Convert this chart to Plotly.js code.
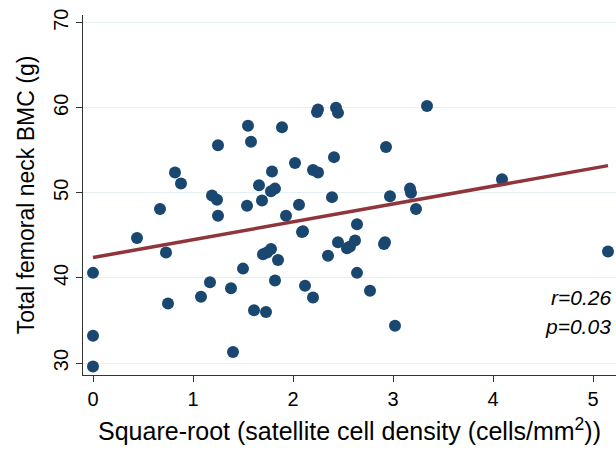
<!DOCTYPE html>
<html>
<head>
<meta charset="utf-8">
<script src="https://cdn.plot.ly/plotly-3.0.1.min.js"></script>
<style>html,body{margin:0;padding:0;background:#fff;}#chart{width:616px;height:452px;}</style>
</head>
<body>
<div id="chart"></div>
<script>
const density = [0,0,0,0.44,0.67,0.73,0.75,0.82,0.88,1.08,1.17,1.19,1.24,1.25,1.25,1.38,1.40,1.50,1.55,1.54,1.58,1.61,1.66,1.69,1.73,1.70,1.74,1.78,1.79,1.78,1.82,1.82,1.85,1.89,1.93,2.02,2.06,2.09,2.10,2.12,2.20,2.20,2.25,2.25,2.24,2.35,2.39,2.41,2.43,2.45,2.45,2.54,2.57,2.62,2.64,2.64,2.77,2.91,2.92,2.93,2.97,3.02,3.17,3.18,3.23,3.34,4.09,5.15];
const bmc = [40.6,33.2,29.6,44.7,48.1,43.0,37.0,52.4,51.1,37.8,39.5,49.7,49.2,55.6,47.3,38.8,31.3,41.1,57.9,48.5,56.0,36.2,50.9,49.1,36.0,42.8,43.0,43.4,52.5,50.2,50.5,39.7,42.1,57.7,47.3,53.5,48.6,45.4,45.5,39.1,37.7,52.7,52.4,59.8,59.5,42.6,49.5,54.2,60.0,59.4,44.2,43.5,43.7,44.4,46.3,40.6,38.5,44.0,44.2,55.4,49.6,34.4,50.5,50.0,48.1,60.2,51.6,43.1];
const fitX = [0, 5.15];
const fitY = [42.4, 53.2];
const yTicks = [30,40,50,60,70];
const xTicks = [0,1,2,3,4,5];
const statsText = ['r=0.26','p=0.03'];

const font = 'Liberation Sans, Arial, sans-serif';
const data = [
  {x: density, y: bmc, type:'scatter', mode:'markers',
   marker:{color:'#1a476f', size:12, line:{width:0}}, hoverinfo:'skip'},
  {x: fitX, y: fitY, type:'scatter', mode:'lines',
   line:{color:'#90353b', width:3.5}, hoverinfo:'skip'}
];
const layout = {
  width:616, height:452,
  margin:{l:83, r:0, t:15, b:77},
  paper_bgcolor:'#fff', plot_bgcolor:'#fff',
  showlegend:false,
  font:{family:font, color:'#000'},
  xaxis:{range:[-0.1,5.23], tickvals:xTicks, ticks:'outside', ticklen:6, tickcolor:'#333', tickwidth:1,
    showgrid:false, zeroline:false, showline:true, linecolor:'#333', linewidth:1,
    tickfont:{size:20, family:font, color:'#000'},
    title:{text:'Square-root (satellite cell density (cells/mm<sup>2</sup>))', font:{size:25, family:font, color:'#000'}, standoff:13}},
  yaxis:{range:[28.6,70.9], tickvals:yTicks, ticks:'outside', ticklen:6, tickcolor:'#333', tickwidth:1, tickangle:-90,
    showgrid:true, gridcolor:'#e6eff1', gridwidth:1, zeroline:false, showline:true, linecolor:'#333', linewidth:1,
    tickfont:{size:20, family:font, color:'#000'},
    title:{text:'Total femoral neck BMC (g)', font:{size:23, family:font, color:'#000'}, standoff:8}},
  annotations:[
    {xref:'paper', yref:'y', x:0.995, y:37.65, xanchor:'right', yanchor:'middle', text:'<i>'+statsText[0]+'</i>', showarrow:false, font:{size:21, family:font, color:'#000'}},
    {xref:'paper', yref:'y', x:0.995, y:34.25, xanchor:'right', yanchor:'middle', text:'<i>'+statsText[1]+'</i>', showarrow:false, font:{size:21, family:font, color:'#000'}}
  ]
};
Plotly.newPlot('chart', data, layout, {displayModeBar:false, staticPlot:true});
</script>
</body>
</html>
